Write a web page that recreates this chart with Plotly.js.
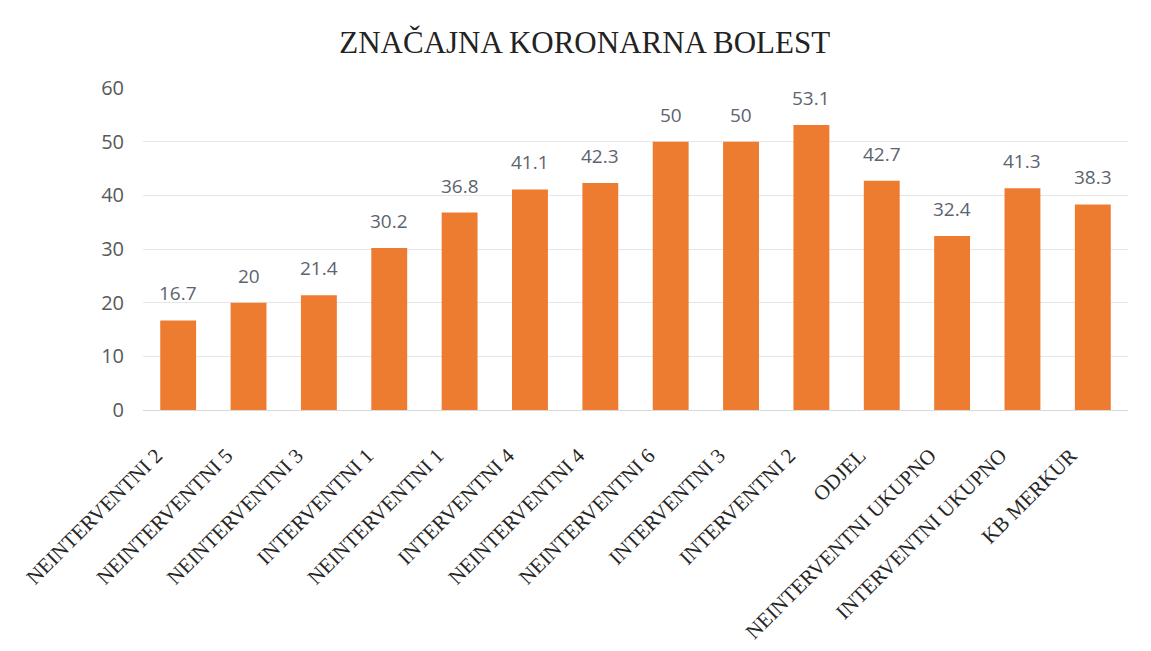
<!DOCTYPE html>
<html>
<head>
<meta charset="utf-8">
<script src="https://cdn.plot.ly/plotly-3.0.1.min.js"></script>
<style>html,body{margin:0;padding:0;background:#fff;}#chart{width:1151px;height:651px;}</style>
</head>
<body>
<div id="chart"></div>
<script>
const categories = ["NEINTERVENTNI 2","NEINTERVENTNI 5","NEINTERVENTNI 3","INTERVENTNI 1","NEINTERVENTNI 1","INTERVENTNI 4","NEINTERVENTNI 4","NEINTERVENTNI 6","INTERVENTNI 3","INTERVENTNI 2","ODJEL","NEINTERVENTNI UKUPNO","INTERVENTNI UKUPNO","KB MERKUR"];
const values = [16.7,20,21.4,30.2,36.8,41.1,42.3,50,50,53.1,42.7,32.4,41.3,38.3];
const tickValues = [0,10,20,30,40,50,60];
const labels = values.map(v => String(v));

const trace = {
  type: "bar",
  x: categories,
  y: values,
  marker: {color: "#ED7B30", line: {width: 0}},
  width: 0.51,
  hoverinfo: "x+y"
};

const annotations = categories.map((c, i) => ({
  x: c, y: values[i], xref: "x", yref: "y",
  text: labels[i], showarrow: false,
  yanchor: "bottom", yshift: 12,
  font: {family: "Open Sans, sans-serif", size: 19, color: "#5c6470"}
}));

const layout = {
  width: 1151, height: 651,
  margin: {l: 143, r: 23, t: 88, b: 241},
  paper_bgcolor: "#fff", plot_bgcolor: "#fff",
  title: {text: "ZNAČAJNA KORONARNA BOLEST", x: 0.508, xanchor: "center", y: 0.935, yanchor: "middle",
          font: {family: "Liberation Serif, serif", size: 31, color: "#222"}},
  xaxis: {tickangle: -45, tickfont: {family: "Liberation Serif, serif", size: 21, color: "#262626"},
          showgrid: false, showline: true, linecolor: "#d9d9d9",
          ticks: "outside", ticklen: 24, tickcolor: "rgba(0,0,0,0)", ticklabelshift: -22, automargin: false},
  yaxis: {range: [0, 60], tickvals: tickValues, ticktext: tickValues.map(String),
          tickfont: {family: "Open Sans, sans-serif", size: 20, color: "#595959"},
          showgrid: true, gridcolor: "#e6e6e6", zeroline: false, showline: false, ticks: "",
          ticklabelstandoff: 18, automargin: false},
  annotations: annotations,
  showlegend: false,
  bargap: 0.49
};

Plotly.newPlot("chart", [trace], layout, {displayModeBar: false, staticPlot: true});
</script>
</body>
</html>
